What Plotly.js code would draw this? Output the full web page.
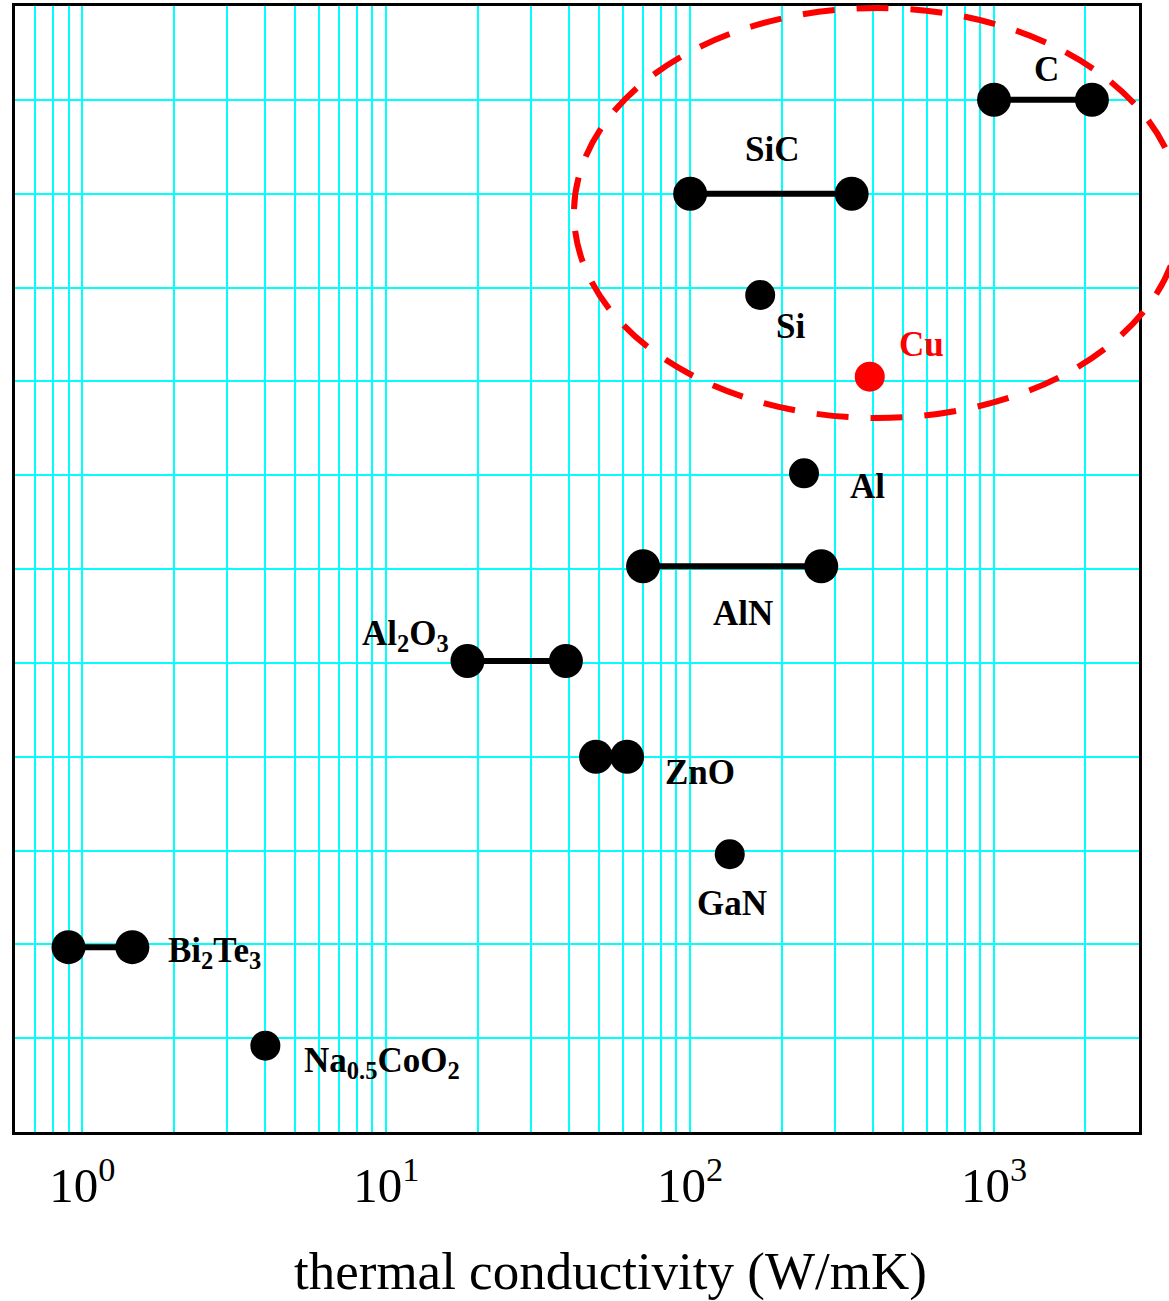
<!DOCTYPE html>
<html>
<head>
<meta charset="utf-8">
<script src="https://cdn.plot.ly/plotly-3.0.1.min.js"></script>
<style>html,body{margin:0;padding:0;background:#fff;}#chart{width:1169px;height:1301px;}</style>
</head>
<body>
<div id="chart"></div>
<script>
// ---- data ----
const materials = ['C', 'SiC', 'Si', 'Cu', 'Al', 'AlN', 'Al2O3', 'ZnO', 'GaN', 'Bi2Te3', 'Na0.5CoO2'];
const labelText = ['C', 'SiC', 'Si', 'Cu', 'Al', 'AlN', 'Al<sub>2</sub>O<sub>3</sub>', 'ZnO', 'GaN', 'Bi<sub>2</sub>Te<sub>3</sub>', 'Na<sub>0.5</sub>CoO<sub>2</sub>'];
const kLow  = [1000, 100, 170, 390, 237, 70, 18.5, 49, 135, 0.9, 4.0];
const kHigh = [2100, 340, null, null, null, 270, 39, 62, null, 1.46, null];
const rowPos = [11, 10, 8.92, 8.05, 7.02, 6.03, 5.02, 4, 2.96, 1.97, 0.92];
const highlight = ['Cu'];
const tickVals = [1, 10, 100, 1000];
const tickText = ['10<sup>0</sup>', '10<sup>1</sup>', '10<sup>2</sup>', '10<sup>3</sup>'];
const xTitle = 'thermal conductivity (W/mK)';

// ---- label placement (pixel offsets from each material's mid point) ----
const labelStyle = {
  'C':        {dx: 4,    dy: 30,  anchor: 'center'},
  'SiC':      {dx: 1,    dy: 44,  anchor: 'center'},
  'Si':       {dx: 30,   dy: -31, anchor: 'center'},
  'Cu':       {dx: 52,   dy: 32,  anchor: 'center'},
  'Al':       {dx: 63,   dy: -13, anchor: 'center'},
  'AlN':      {dx: 11,   dy: -47, anchor: 'center'},
  'Al2O3':    {dx: -111, dy: 25,  anchor: 'center'},
  'ZnO':      {dx: 88,   dy: -16, anchor: 'center'},
  'GaN':      {dx: 2,    dy: -49, anchor: 'center'},
  'Bi2Te3':   {dx: 66,   dy: -5,  anchor: 'left'},
  'Na0.5CoO2':{dx: 37,   dy: -17, anchor: 'left'}
};

const serif = 'Liberation Serif, Times New Roman, Times, serif';
const traces = [];
const annotations = [];

materials.forEach((m, i) => {
  const isRange = kHigh[i] !== null;
  const color = highlight.includes(m) ? '#ff0000' : '#000000';
  const xs = isRange ? [kLow[i], kHigh[i]] : [kLow[i]];
  const ys = xs.map(() => rowPos[i]);
  traces.push({
    type: 'scatter',
    mode: isRange ? 'lines+markers' : 'markers',
    x: xs, y: ys, name: m,
    line: {color: color, width: 6},
    marker: {color: color, size: isRange ? 34 : 30},
    showlegend: false,
    hoverinfo: 'skip'
  });
  const mid = isRange ? Math.sqrt(kLow[i] * kHigh[i]) : kLow[i];
  const st = labelStyle[m];
  annotations.push({
    x: Math.log10(mid), y: rowPos[i], xref: 'x', yref: 'y',
    text: '<b>' + labelText[i] + '</b>',
    showarrow: false,
    xanchor: st.anchor, yanchor: 'middle',
    xshift: st.dx, yshift: st.dy,
    font: {family: serif, size: 35, color: color}
  });
});

// x-axis title (placed as paper annotation to match the reference's offset)
annotations.push({
  x: 0.5298, y: -0.1243, xref: 'paper', yref: 'paper',
  text: xTitle, showarrow: false, xanchor: 'center', yanchor: 'middle',
  font: {family: serif, size: 53, color: '#000'}
});

// minor grid values for the log axis
const minorVals = [];
for (let d = -1; d <= 3; d++) {
  for (let k = 2; k <= 9; k++) {
    const v = k * Math.pow(10, d);
    if (v >= 0.6 && v <= 3000) minorVals.push(v);
  }
}

const layout = {
  width: 1169, height: 1301,
  margin: {l: 15, r: 30, t: 6, b: 169},
  paper_bgcolor: '#ffffff', plot_bgcolor: '#ffffff',
  showlegend: false,
  xaxis: {
    type: 'log',
    range: [Math.log10(0.6), Math.log10(3000)],
    tickmode: 'array', tickvals: tickVals, ticktext: tickText,
    ticks: '', ticklabelstandoff: 8,
    tickfont: {family: serif, size: 49, color: '#000'},
    showgrid: true, gridcolor: '#00ffff', gridwidth: 2,
    minor: {tickmode: 'array', tickvals: minorVals, showgrid: true, gridcolor: '#00ffff', gridwidth: 2, ticks: ''},
    showline: true, linecolor: '#000', linewidth: 3, mirror: true,
    zeroline: false
  },
  yaxis: {
    range: [0, 12],
    tickmode: 'array', tickvals: [1,2,3,4,5,6,7,8,9,10,11],
    showticklabels: false, ticks: '',
    showgrid: true, gridcolor: '#00ffff', gridwidth: 2,
    showline: true, linecolor: '#000', linewidth: 3, mirror: true,
    zeroline: false
  },
  annotations: annotations,
  shapes: [{
    type: 'circle', xref: 'paper', yref: 'paper',
    x0: 0.4973, x1: 1.0374, y0: 0.6341, y1: 0.9982,
    line: {color: '#ff0000', width: 6, dash: '32px,22px'},
    layer: 'above'
  }]
};

Plotly.newPlot('chart', traces, layout, {displayModeBar: false, staticPlot: true});
</script>
</body>
</html>
